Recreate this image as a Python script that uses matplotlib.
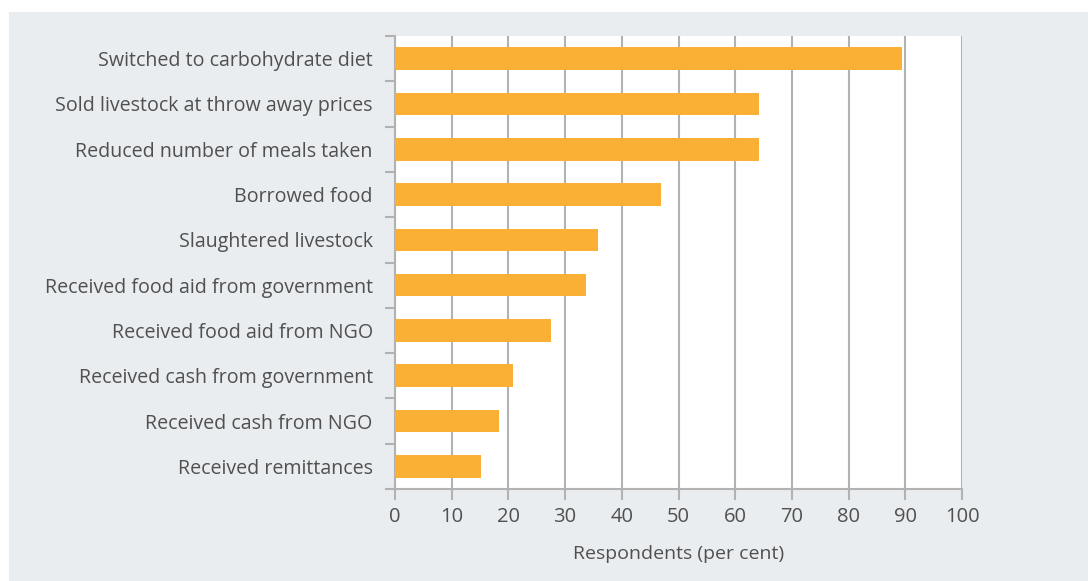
import numpy as np
import matplotlib
matplotlib.use("Agg")
import matplotlib.pyplot as plt
from matplotlib.patches import Rectangle

categories = [
    "Switched to carbohydrate diet",
    "Sold livestock at throw away prices",
    "Reduced number of meals taken",
    "Borrowed food",
    "Slaughtered livestock",
    "Received food aid from government",
    "Received food aid from NGO",
    "Received cash from government",
    "Received cash from NGO",
    "Received remittances",
]
values = [89.5, 64.2, 64.2, 46.9, 35.8, 33.7, 27.5, 20.8, 18.3, 15.2]
xticks = [0, 10, 20, 30, 40, 50, 60, 70, 80, 90, 100]

plt.rcParams['font.family'] = ['Open Sans', 'DejaVu Sans']

bg = '#e9edf0'
bar_col = '#f9b035'
text_col = '#505050'
line_col = '#b2b2b2'

fig = plt.figure(figsize=(10.88, 5.81), dpi=100, facecolor='white')
fig.patches.append(Rectangle((9 / 1088, 0), 1, 1 - 12 / 581, transform=fig.transFigure,
                             facecolor=bg, edgecolor='none', zorder=-10))

ax = fig.add_axes([395 / 1088, 1 - 489 / 581, (962 - 395) / 1088, (489 - 36) / 581])
ax.set_zorder(1)
ax.set_facecolor('white')

y = np.arange(len(categories))
ax.barh(y, values, height=0.5, color=bar_col, zorder=3)
ax.set_ylim(len(categories) - 0.5, -0.5)
ax.set_xlim(0, 100)

ax.set_xticks(xticks)
ax.set_xticklabels([str(t) for t in xticks])
ax.set_yticks(y)
ax.set_yticklabels(categories)
ax.set_yticks(np.arange(len(categories) + 1) - 0.5, minor=True)

ax.grid(axis='x', color=line_col, linewidth=1.5, zorder=1)
ax.tick_params(axis='x', length=8, width=1.5, color=line_col, labelsize=14.5,
               labelcolor=text_col, pad=5)
ax.tick_params(axis='y', which='major', length=0, labelsize=14.1,
               labelcolor=text_col, pad=16)
ax.tick_params(axis='y', which='minor', length=7, width=1.5, color=line_col)

for s in ['top', 'right']:
    ax.spines[s].set_visible(False)
for s in ['left', 'bottom']:
    ax.spines[s].set_color(line_col)
    ax.spines[s].set_linewidth(1.5)

ax.set_xlabel("Respondents (per cent)", fontsize=14, color=text_col, labelpad=13)

fig.savefig("out.png", dpi=100, facecolor=fig.get_facecolor())
